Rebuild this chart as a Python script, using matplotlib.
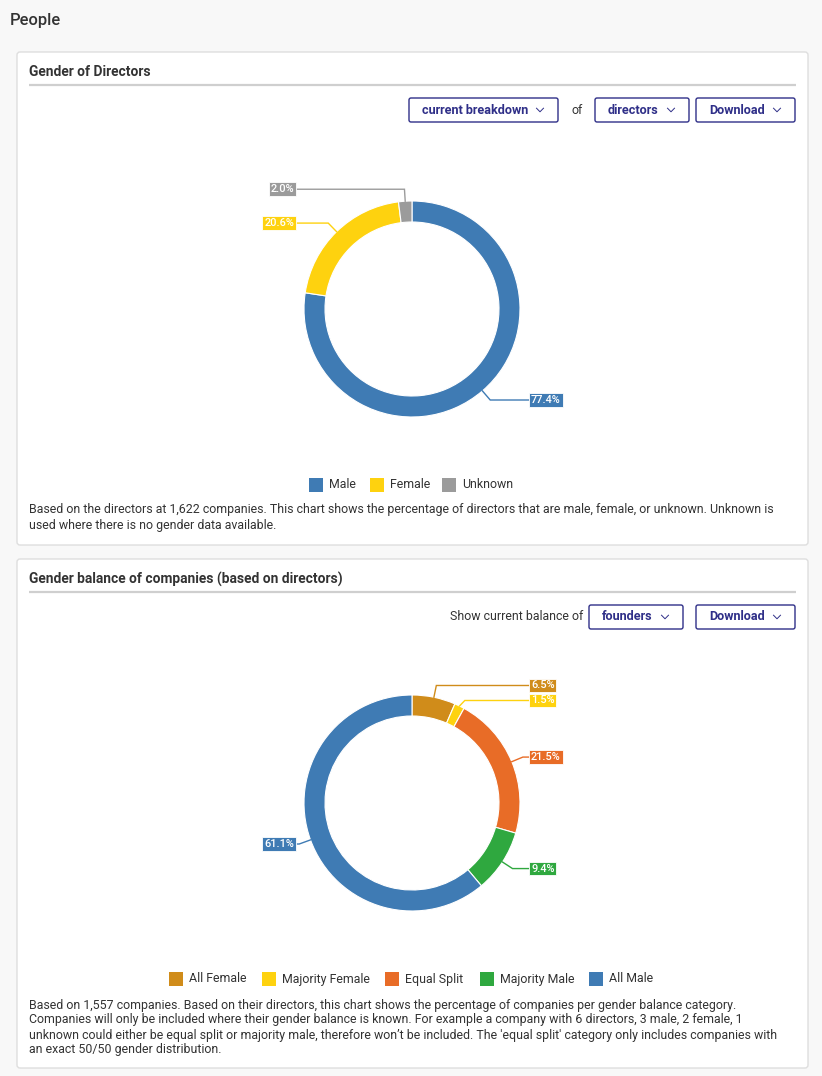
import numpy as np
import matplotlib
matplotlib.use("Agg")
import matplotlib.pyplot as plt
from matplotlib.patches import FancyBboxPatch, Rectangle

# ---------------- data ----------------
gender_labels = ["Male", "Female", "Unknown"]
gender_values = [77.4, 20.6, 2.0]
gender_colors = ["#3f7bb4", "#fed20f", "#9b9b9b"]

balance_labels = ["All Female", "Majority Female", "Equal Split", "Majority Male", "All Male"]
balance_values = [6.5, 1.5, 21.5, 9.4, 61.1]
balance_colors = ["#d08c1a", "#fed20f", "#e86c27", "#2fa83f", "#3f7bb4"]

desc1 = ["Based on the directors at 1,622 companies. This chart shows the percentage of directors that are male, female, or unknown. Unknown is",
         "used where there is no gender data available."]
desc2 = ["Based on 1,557 companies. Based on their directors, this chart shows the percentage of companies per gender balance category.",
         "Companies will only be included where their gender balance is known. For example a company with 6 directors, 3 male, 2 female, 1",
         "unknown could either be equal split or majority male, therefore won\u2019t be included. The 'equal split' category only includes companies with",
         "an exact 50/50 gender distribution."]

W, H = 822, 1076
FONT = ["Roboto", "DejaVu Sans"]
plt.rcParams['font.family'] = FONT
TXT = "#333333"
BTN = "#2f2f88"
BODY = 12.45

def pt(px):
    return px * 72 / 100

fig = plt.figure(figsize=(W / 100, H / 100), dpi=100)
fig.patch.set_facecolor("#f8f8f8")
bg = fig.add_axes([0, 0, 1, 1])
bg.set_xlim(0, W)
bg.set_ylim(H, 0)
bg.axis("off")
bg.set_facecolor("#f8f8f8")

bg.text(10, 21, "People", fontsize=pt(16.5), color=TXT, va="center", ha="left", fontweight="medium")

def card(y0, y1, title):
    bg.add_patch(FancyBboxPatch((17, y0), 791, y1 - y0, boxstyle="round,pad=0,rounding_size=3",
                                facecolor="white", edgecolor="#dedede", linewidth=1))
    bg.text(29, y0 + 20, title, fontsize=pt(13.7), color=TXT, va="center", ha="left", fontweight="bold")
    bg.plot([29, 796], [y0 + 33, y0 + 33], color="#cfcfcf", linewidth=1.6, solid_capstyle="butt")

def chevron(x, y):
    bg.plot([x - 3.5, x, x + 3.5], [y - 1.8, y + 1.8, y - 1.8], color=BTN, linewidth=0.7)

def button(x0, x1, y0, label):
    bg.add_patch(FancyBboxPatch((x0, y0), x1 - x0, 24, boxstyle="round,pad=0,rounding_size=2",
                                facecolor="white", edgecolor=BTN, linewidth=1))
    bg.text(x0 + 13, y0 + 12, label, fontsize=pt(12.6), color=BTN, va="center", ha="left", fontweight="bold")
    chevron(x1 - 18, y0 + 12)

# card 1
card(52, 545, "Gender of Directors")
button(409, 558, 98, "current breakdown")
bg.text(577, 110, "of", fontsize=pt(BODY), color=TXT, va="center", ha="center")
button(595, 689, 98, "directors")
button(696, 795, 98, "Download")

# card 2
card(559, 1068, "Gender balance of companies (based on directors)")
bg.text(583, 617, "Show current balance of", fontsize=pt(BODY), color=TXT, va="center", ha="right")
button(589, 683, 605, "founders")
button(696, 795, 605, "Download")

for i, line in enumerate(desc1):
    bg.text(29, 510 + 15 * i, line, fontsize=pt(BODY), color=TXT, va="center", ha="left")
for i, line in enumerate(desc2):
    bg.text(29, 1005 + 15 * i, line, fontsize=pt(BODY), color=TXT, va="center", ha="left")

# legends
def legend(labels, colors, xs, y):
    for lab, col, x in zip(labels, colors, xs):
        bg.add_patch(Rectangle((x, y - 7), 14, 14, facecolor=col, edgecolor="none"))
        bg.text(x + 20, y, lab, fontsize=pt(BODY), color=TXT, va="center", ha="left")

legend(gender_labels, gender_colors, [309, 370, 442], 485)
legend(balance_labels, balance_colors, [169, 262, 385, 480, 589], 979)

# donuts
R = 108
RING = 21
HALF = 160

def donut(cx, cy, values, colors):
    ax = fig.add_axes([(cx - HALF) / W, 1 - (cy + HALF) / H, 2 * HALF / W, 2 * HALF / H])
    ax.set_xlim(-HALF, HALF)
    ax.set_ylim(-HALF, HALF)
    ax.axis("off")
    wedges, _ = ax.pie(values, colors=colors, radius=R, startangle=90, counterclock=False,
                       wedgeprops=dict(width=RING, edgecolor="white", linewidth=0.8))
    ax.set_xlim(-HALF, HALF)
    ax.set_ylim(-HALF, HALF)
    total = sum(values)
    items = []
    cum = 0
    for v, c in zip(values, colors):
        mid = np.deg2rad(90 - (cum + v / 2) / total * 360)
        cum += v
        right = np.cos(mid) >= 0
        items.append(dict(v=v, c=c, mid=mid, right=right, y=(R + 12) * np.sin(mid)))
    for side in (True, False):
        group = sorted([it for it in items if it["right"] == side], key=lambda d: -d["y"])
        for a, b in zip(group, group[1:]):
            if a["y"] - b["y"] < 15:
                b["y"] = a["y"] - 15
    for it in items:
        mid = it["mid"]
        ex, ey = R * np.cos(mid), R * np.sin(mid)
        kx = (R + 12) * np.cos(mid)
        ly = it["y"]
        lx = 117 if it["right"] else -116
        ax.plot([ex, kx, lx], [ey, ly, ly], color=it["c"], linewidth=1, solid_joinstyle="miter")
        ax.text(lx + (2 if it["right"] else -2), ly, f"{it['v']:.1f}%", fontsize=pt(11),
                color="white", ha="left" if it["right"] else "right", va="center", fontweight="medium",
                bbox=dict(boxstyle="square,pad=0.16", facecolor=it["c"], edgecolor="white", linewidth=0.6))
    return ax

donut(412, 309, gender_values, gender_colors)
donut(412, 803, balance_values, balance_colors)

fig.savefig("out.png", dpi=100, facecolor=fig.get_facecolor())
